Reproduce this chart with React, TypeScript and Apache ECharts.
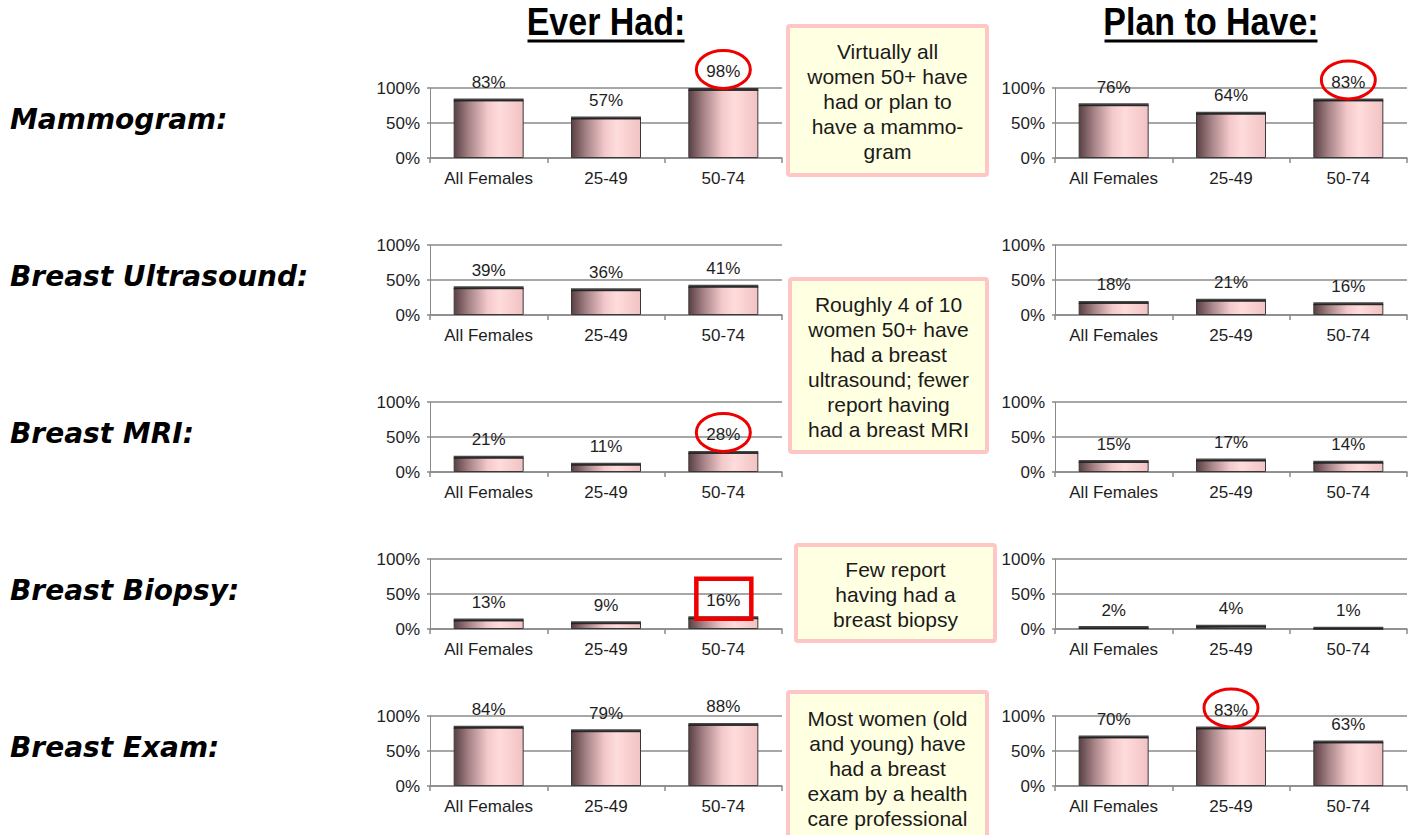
import React, { useEffect, useRef } from "react";
import * as echarts from "echarts";

// Survey categories shared by every small panel
const categories = ["All Females", "25-49", "50-74"];

// Procedure names (row headers)
const procedures = [
  "Mammogram:",
  "Breast Ultrasound:",
  "Breast MRI:",
  "Breast Biopsy:",
  "Breast Exam:",
];

// "Ever Had" percentages, one array per procedure
const everMammogram = [83, 57, 98];
const everUltrasound = [39, 36, 41];
const everMRI = [21, 11, 28];
const everBiopsy = [13, 9, 16];
const everExam = [84, 79, 88];

// "Plan to Have" percentages, one array per procedure
const planMammogram = [76, 64, 83];
const planUltrasound = [18, 21, 16];
const planMRI = [15, 17, 14];
const planBiopsy = [2, 4, 1];
const planExam = [70, 83, 63];

const everHad = [everMammogram, everUltrasound, everMRI, everBiopsy, everExam];
const planToHave = [planMammogram, planUltrasound, planMRI, planBiopsy, planExam];

// Value axis ticks
const yMin = 0;
const yMax = 100;
const yStep = 50;

// Highlighted values: row, panel (0 = Ever Had, 1 = Plan to Have), category index, marker shape
const highlights = [
  { row: 0, panel: 0, index: 2, shape: "ellipse" },
  { row: 0, panel: 1, index: 2, shape: "ellipse" },
  { row: 2, panel: 0, index: 2, shape: "ellipse" },
  { row: 3, panel: 0, index: 2, shape: "rect" },
  { row: 4, panel: 1, index: 1, shape: "ellipse" },
];

// Call-out notes
const notes = [
  { text: "Virtually all\nwomen 50+ have\nhad or plan to\nhave a mammo-\ngram", x: 788, y: 26, w: 199, h: 149 },
  { text: "Roughly 4 of 10\nwomen 50+ have\nhad a breast\nultrasound; fewer\nreport having\nhad a breast MRI", x: 790, y: 279, w: 197, h: 173 },
  { text: "Few report\nhaving had a\nbreast biopsy", x: 796, y: 545, w: 199, h: 96 },
  { text: "Most women (old\nand young) have\nhad a breast\nexam by a health\ncare professional", x: 788, y: 692, w: 199, h: 150 },
];

const rowTops = [88, 245, 402, 559, 716];
const plotHeight = 70;
const panelLefts = [430, 1055];
const plotWidth = 352;
const barWidth = 70;

const AXIS_GRAY = "#8a8a8a";
const TEXT = "#1e1e1e";
const FONT = "'Liberation Sans', Arial, sans-serif";
const SMALL = 17;

const barFill = {
  type: "linear",
  x: 0,
  y: 0,
  x2: 1,
  y2: 0,
  colorStops: [
    { offset: 0, color: "#5a4044" },
    { offset: 0.22, color: "#a78488" },
    { offset: 0.48, color: "#f3c8ca" },
    { offset: 0.66, color: "#ffdcdc" },
    { offset: 1, color: "#f1c2c3" },
  ],
};

export default function App() {
  const ref = useRef<HTMLDivElement>(null);

  useEffect(() => {
    if (!ref.current) return;
    const chart = echarts.init(ref.current, undefined, { renderer: "svg" });

    const grids: any[] = [];
    const xAxes: any[] = [];
    const yAxes: any[] = [];
    const series: any[] = [];
    const barSeriesIndex: number[][] = [];

    procedures.forEach((_, row) => {
      barSeriesIndex.push([]);
      [everHad[row], planToHave[row]].forEach((values, panel) => {
        const gi = grids.length;
        grids.push({
          left: panelLefts[panel],
          top: rowTops[row],
          width: plotWidth,
          height: plotHeight,
        });
        xAxes.push({
          type: "category",
          gridIndex: gi,
          data: categories,
          axisLine: { show: true, lineStyle: { color: AXIS_GRAY, width: 1.5 } },
          axisTick: { show: true, length: 5, lineStyle: { color: AXIS_GRAY, width: 1.5 } },
          axisLabel: { fontSize: SMALL, color: TEXT, fontFamily: FONT, margin: 12 },
        });
        yAxes.push({
          type: "value",
          gridIndex: gi,
          min: yMin,
          max: yMax,
          interval: yStep,
          axisLine: { show: true, lineStyle: { color: AXIS_GRAY, width: 1 } },
          axisTick: { show: true, length: 3, lineStyle: { color: AXIS_GRAY, width: 1.5 } },
          splitLine: { show: true, lineStyle: { color: AXIS_GRAY, width: 1.5 } },
          axisLabel: {
            fontSize: SMALL,
            color: TEXT,
            fontFamily: FONT,
            margin: 10,
            formatter: "{value}%",
          },
        });
        barSeriesIndex[row].push(series.length);
        series.push({
          type: "bar",
          xAxisIndex: gi,
          yAxisIndex: gi,
          data: values,
          barWidth,
          itemStyle: { color: barFill, borderColor: "#3a3a3a", borderWidth: 1 },
          label: {
            show: true,
            position: "top",
            distance: 9,
            fontSize: SMALL,
            color: TEXT,
            fontFamily: FONT,
            formatter: "{c}%",
          },
        });
        // dark top edge of each bar
        series.push({
          type: "scatter",
          xAxisIndex: gi,
          yAxisIndex: gi,
          data: values,
          symbol: "rect",
          symbolSize: [barWidth, 3],
          itemStyle: { color: "#1a1a1a" },
          silent: true,
          z: 3,
        });
      });
    });

    const baseGraphic: any[] = [];

    // Column headings with underline
    const headings = [
      { text: "Ever Had:", cx: 606, w: 157 },
      { text: "Plan to Have:", cx: 1211, w: 213 },
    ];
    headings.forEach((h) => {
      baseGraphic.push({
        type: "text",
        x: h.cx,
        y: 22,
        scaleY: 1.12,
        style: {
          text: h.text,
          fontSize: 34,
          fontWeight: "bold",
          fontFamily: FONT,
          fill: "#000",
          align: "center",
          verticalAlign: "middle",
        },
      });
      baseGraphic.push({
        type: "line",
        shape: { x1: h.cx - h.w / 2, y1: 41, x2: h.cx + h.w / 2, y2: 41 },
        style: { stroke: "#000", lineWidth: 3 },
      });
    });

    // Row headers
    procedures.forEach((name, row) => {
      baseGraphic.push({
        type: "text",
        x: 10,
        y: rowTops[row] + 31,
        style: {
          text: name,
          fontSize: 28,
          fontWeight: "bold",
          fontStyle: "italic",
          fontFamily: "'DejaVu Sans', Verdana, sans-serif",
          fill: "#000",
          align: "left",
          verticalAlign: "middle",
        },
      });
    });

    // Call-out boxes
    notes.forEach((n) => {
      baseGraphic.push({
        type: "rect",
        shape: { x: n.x, y: n.y, width: n.w, height: n.h, r: 2 },
        style: { fill: "#ffffe1", stroke: "#ffc6c6", lineWidth: 4 },
      });
      baseGraphic.push({
        type: "text",
        x: n.x + n.w / 2,
        y: n.y + n.h / 2 + 1,
        style: {
          text: n.text,
          fontSize: 21,
          lineHeight: 25,
          fontFamily: FONT,
          fill: "#1a1a1a",
          align: "center",
          verticalAlign: "middle",
        },
      });
    });

    const option: any = {
      animation: false,
      backgroundColor: "#ffffff",
      grid: grids,
      xAxis: xAxes,
      yAxis: yAxes,
      series,
      graphic: baseGraphic,
    };
    chart.setOption(option);

    // Highlight markers placed around the selected value labels
    const markers: any[] = highlights.map((hl) => {
      const values = hl.panel === 0 ? everHad[hl.row] : planToHave[hl.row];
      const sIdx = barSeriesIndex[hl.row][hl.panel];
      const pt = chart.convertToPixel({ seriesIndex: sIdx }, [hl.index, values[hl.index]]) as number[];
      const cx = pt[0];
      const cy = pt[1] - 20;
      if (hl.shape === "rect") {
        return {
          type: "rect",
          shape: { x: cx - 27, y: cy - 19, width: 55, height: 40 },
          style: { fill: "none", stroke: "#ee0000", lineWidth: 4.5 },
          z: 10,
        };
      }
      return {
        type: "ellipse",
        shape: { cx, cy, rx: 27, ry: 19 },
        style: { fill: "none", stroke: "#ee0000", lineWidth: 3 },
        z: 10,
      };
    });

    chart.setOption({ graphic: [...baseGraphic, ...markers] });

    return () => chart.dispose();
  }, []);

  return (
    <div
      ref={ref}
      style={{ position: "absolute", left: 0, top: 0, width: 1419, height: 835, background: "#fff" }}
    />
  );
}
